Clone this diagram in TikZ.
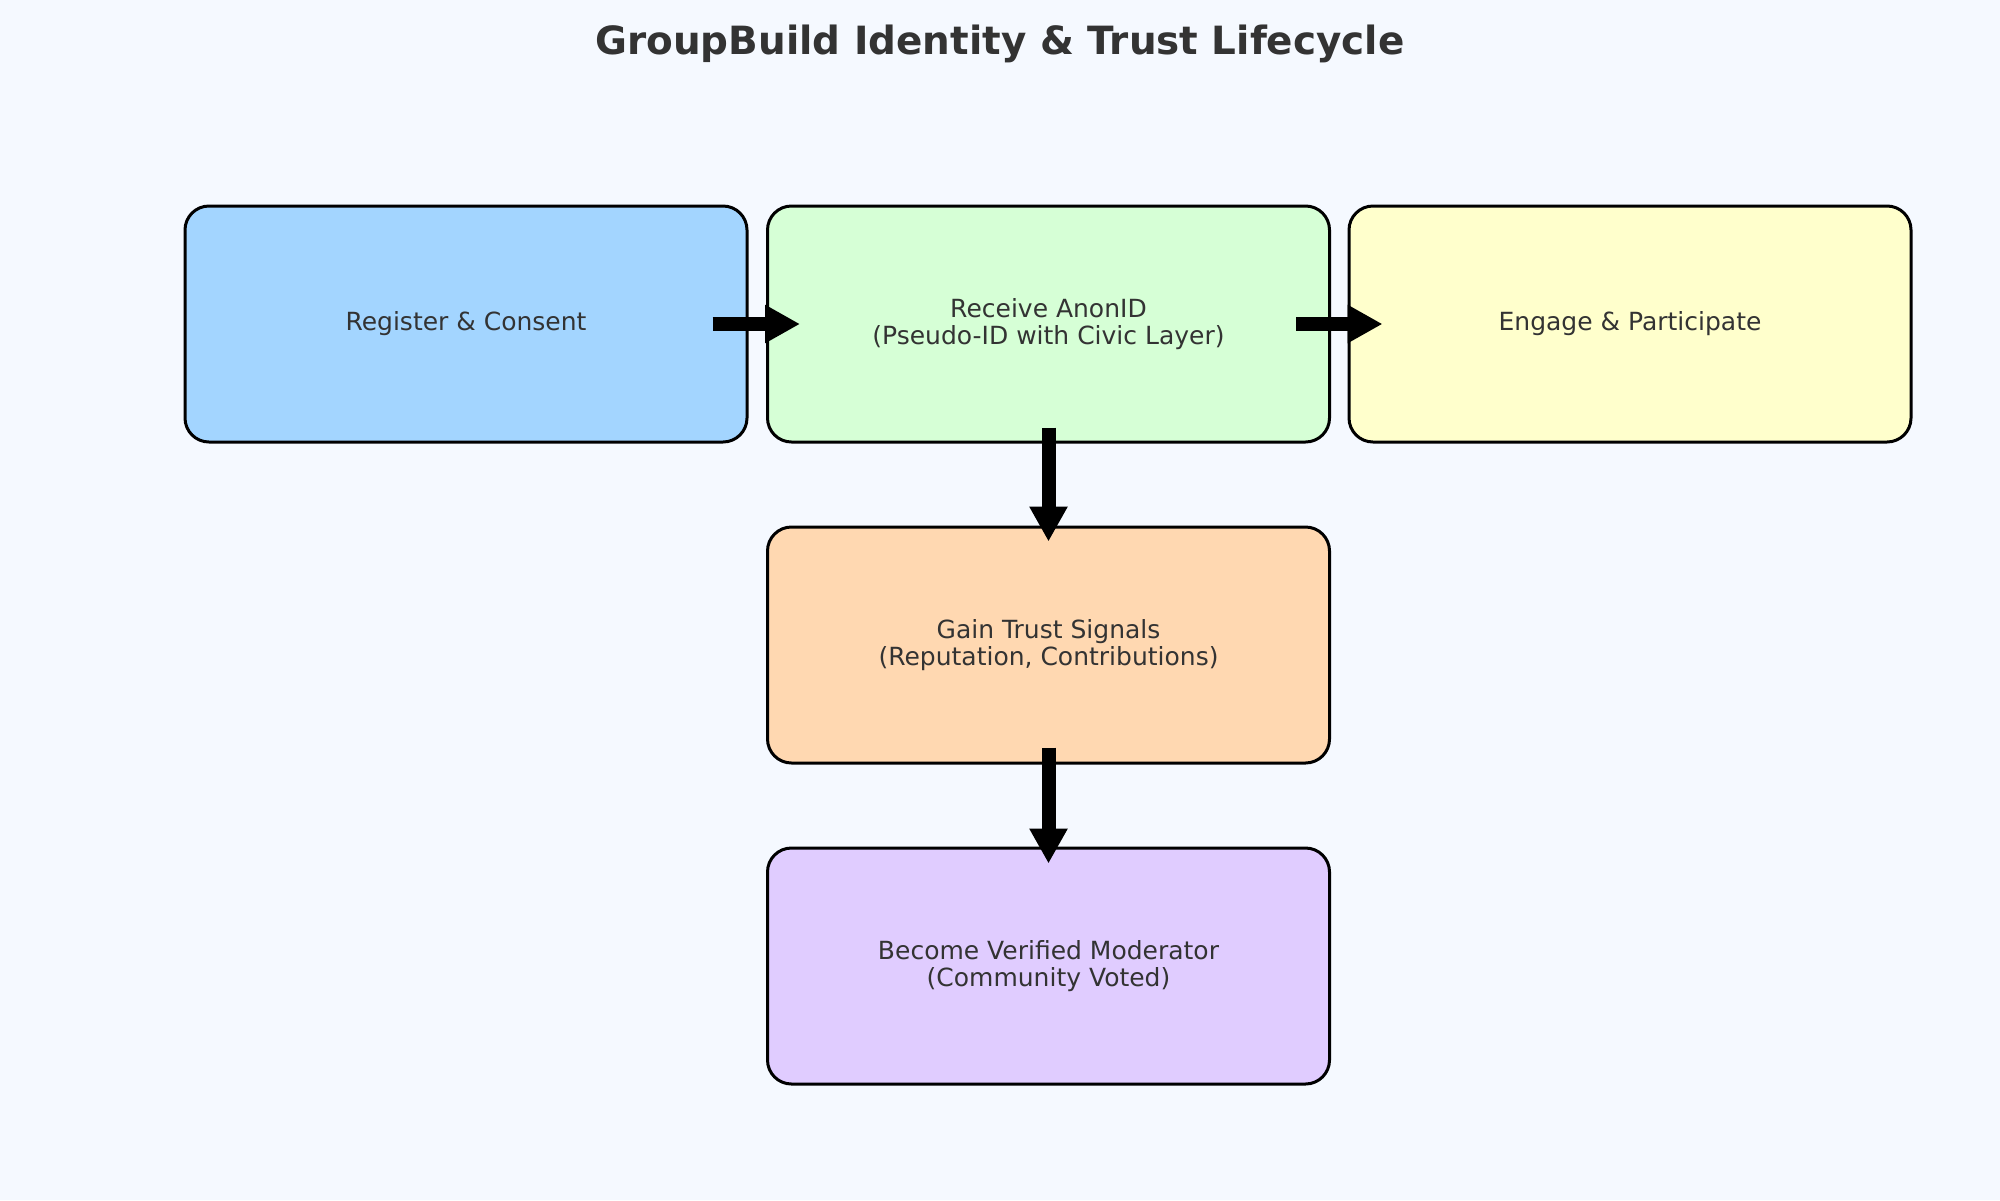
\documentclass[tikz,border=0pt]{standalone}
\usepackage{fontspec}
\setmainfont{DejaVu Sans}
\usetikzlibrary{arrows.meta}
\definecolor{bg}{HTML}{F5F9FF}
\definecolor{txt}{HTML}{333333}
\definecolor{cblue}{HTML}{A3D5FF}
\definecolor{cgreen}{HTML}{D6FFD6}
\definecolor{cyellow}{HTML}{FFFFCC}
\definecolor{corange}{HTML}{FFD8B1}
\definecolor{cpurple}{HTML}{E0CCFF}
\tikzset{
  stepbox/.style={draw=black, line width=1.5pt, rounded corners=12pt, minimum width=281pt, minimum height=118pt, align=center, text=txt, font=\fontsize{12.5pt}{13.5pt}\selectfont, inner sep=0pt},
  flow/.style={line width=7pt, -{Triangle[length=17.5pt,width=18pt]}}
}
\begin{document}
\begin{tikzpicture}[x=0.5pt,y=-0.5pt]
\fill[bg] (0,0) rectangle (2000,1200);
\useasboundingbox (0,0) rectangle (2000,1200);
\node[text=txt, font=\bfseries\fontsize{19.45pt}{22pt}\selectfont] (title) at (1000,44) {GroupBuild Identity \& Trust Lifecycle};
\node[stepbox, fill=cblue] (b1) at (466,324) {Register \& Consent};
\node[stepbox, fill=cgreen] (b2) at (1048.5,324) {Receive AnonID\\(Pseudo-ID with Civic Layer)};
\node[stepbox, fill=cyellow] (b3) at (1630,324) {Engage \& Participate};
\node[stepbox, fill=corange] (b4) at (1048.5,645) {Gain Trust Signals\\(Reputation, Contributions)};
\node[stepbox, fill=cpurple] (b5) at (1048.5,966) {Become Verified Moderator\\(Community Voted)};
\draw[flow] ([xshift=-18pt]b1.east) -- ([xshift=17pt]b2.west);
\draw[flow] ([xshift=-17.5pt]b2.east) -- ([xshift=17.5pt]b3.west);
\draw[flow] ([yshift=8pt]b2.south) -- ([yshift=-8pt]b4.north);
\draw[flow] ([yshift=8.5pt]b4.south) -- ([yshift=-8.5pt]b5.north);
\end{tikzpicture}
\end{document}
